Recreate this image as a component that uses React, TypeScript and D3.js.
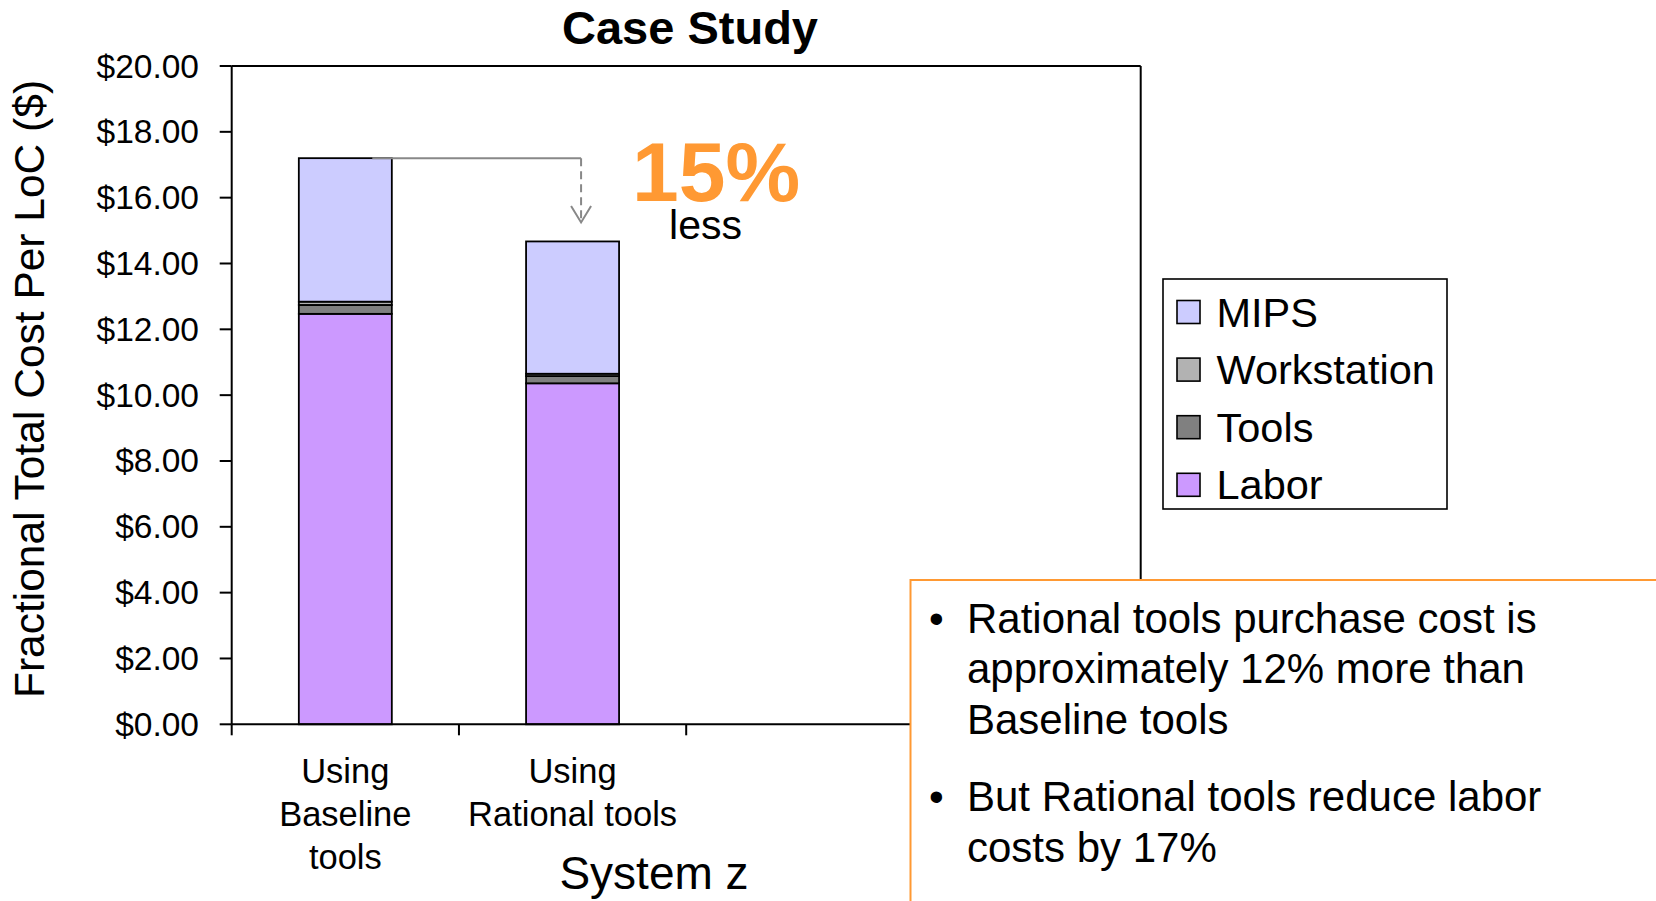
import React from "react";
import * as d3 from "d3";

// ---------- data ----------
const categories = ["Using Baseline tools", "Using Rational tools"];
const categoryLines = [["Using", "Baseline", "tools"], ["Using", "Rational tools"]];
const emptySlots = ["slot3", "slot4"];
const seriesNames = ["Labor", "Tools", "Workstation", "MIPS"];
const labor = [12.47, 10.36];
const tools = [0.27, 0.22];
const workstation = [0.1, 0.07];
const mips = [4.36, 4.02];
const yTicks = [0, 2, 4, 6, 8, 10, 12, 14, 16, 18, 20];
const legendOrder = ["MIPS", "Workstation", "Tools", "Labor"];
const seriesColors: Record<string, string> = {
  Labor: "#CC99FF",
  Tools: "#808080",
  Workstation: "#B2B2B2",
  MIPS: "#CCCCFF",
};
const title = "Case Study";
const yTitle = "Fractional Total Cost Per LoC ($)";
const xTitle = "System z";
const calloutBig = "15%";
const calloutSmall = "less";
const bullets = [
  ["Rational tools purchase cost is", "approximately 12% more than", "Baseline tools"],
  ["But Rational tools reduce labor", "costs by 17%"],
];

const FONT = "'Liberation Sans', Arial, sans-serif";
const W = 1656;
const H = 901;
const left = 231.7;
const right = 1140.7;
const top = 66;
const bottom = 724.3;

export default function App() {
  const table = categories.map((c, i) => ({
    category: c,
    Labor: labor[i],
    Tools: tools[i],
    Workstation: workstation[i],
    MIPS: mips[i],
  }));
  const stacked = d3.stack<any>().keys(seriesNames)(table);

  const slots = [...categories, ...emptySlots];
  const pad = 1 - 93 / ((right - left) / slots.length);
  const x = d3
    .scaleBand<string>()
    .domain(slots)
    .range([left, right])
    .paddingInner(pad)
    .paddingOuter(pad / 2);
  const y = d3.scaleLinear().domain([0, 20]).range([bottom, top]);
  const fmt = d3.format("$.2f");
  const step = x.step();
  const xTickPos = d3.range(slots.length + 1).map((i) => left + i * step);

  const totals = table.map((d) => d.Labor + d.Tools + d.Workstation + d.MIPS);
  const bw = x.bandwidth();
  const x0 = (x(categories[0]) as number) + bw * 0.79;
  const x1 = (x(categories[1]) as number) + bw / 2 + 8.5;
  const yStart = y(totals[0]);
  const yTip = y(totals[1]) - 19;

  const legendX = 1163;
  const legendY = 279;
  const legendW = 284;
  const legendH = 230;
  const rowY0 = 312;
  const rowStep = 57.6;

  return (
    <svg
      width={W}
      height={H}
      style={{ position: "absolute", left: 0, top: 0, background: "#fff" }}
      fontFamily={FONT}
    >
      {/* title */}
      <text x={690} y={44.4} textAnchor="middle" fontSize={47} fontWeight="bold" fill="#000">
        {title}
      </text>

      {/* plot frame */}
      <line x1={left} y1={top} x2={right} y2={top} stroke="#000" strokeWidth={2} />
      <line x1={right} y1={top} x2={right} y2={bottom} stroke="#000" strokeWidth={2} />

      {/* bars */}
      {stacked.map((layer) => (
        <g key={layer.key}>
          {layer.map((d, i) => (
            <rect
              key={i}
              x={x(categories[i])}
              y={y(d[1])}
              width={bw}
              height={y(d[0]) - y(d[1])}
              fill={seriesColors[layer.key]}
              stroke="#000"
              strokeWidth={1.8}
            />
          ))}
        </g>
      ))}

      {/* y axis */}
      <line x1={left} y1={top} x2={left} y2={bottom} stroke="#000" strokeWidth={2} />
      {yTicks.map((t) => (
        <g key={t}>
          <line x1={left - 12} x2={left} y1={y(t)} y2={y(t)} stroke="#000" strokeWidth={2} />
          <text x={199} y={y(t) + 11.5} textAnchor="end" fontSize={33.5} fill="#000">
            {fmt(t)}
          </text>
        </g>
      ))}

      {/* x axis */}
      <line x1={left} y1={bottom} x2={right} y2={bottom} stroke="#000" strokeWidth={2} />
      {xTickPos.map((p, i) => (
        <line key={i} x1={p} x2={p} y1={bottom} y2={bottom + 11} stroke="#000" strokeWidth={2} />
      ))}
      {categories.map((c, i) => (
        <text
          key={c}
          x={(x(c) as number) + bw / 2}
          textAnchor="middle"
          fontSize={34.5}
          fill="#000"
        >
          {categoryLines[i].map((ln, j) => (
            <tspan key={j} x={(x(c) as number) + bw / 2} y={783 + j * 43}>
              {ln}
            </tspan>
          ))}
        </text>
      ))}
      <text x={654} y={889} textAnchor="middle" fontSize={46} fill="#000">
        {xTitle}
      </text>

      {/* y title */}
      <text
        transform={`translate(43.5, 389) rotate(-90)`}
        textAnchor="middle"
        fontSize={42.5}
        fill="#000"
      >
        {yTitle}
      </text>

      {/* connector arrow */}
      <path
        d={`M${x0},${yStart} H${x1}`}
        fill="none"
        stroke="#888888"
        strokeWidth={2}
      />
      <path
        d={`M${x1},${yStart} V${yTip}`}
        fill="none"
        stroke="#888888"
        strokeWidth={2}
        strokeDasharray="8,5"
      />
      <path
        d={`M${x1 - 10},${yTip - 16.5} L${x1},${yTip} L${x1 + 10},${yTip - 16.5}`}
        fill="none"
        stroke="#888888"
        strokeWidth={2}
      />

      {/* callout */}
      <text x={632} y={200.7} fontSize={84} fontWeight="bold" fill="#FF9933">
        {calloutBig}
      </text>
      <text x={705.5} y={239} textAnchor="middle" fontSize={41} fill="#000">
        {calloutSmall}
      </text>

      {/* legend */}
      <rect x={legendX} y={legendY} width={legendW} height={legendH} fill="#fff" stroke="#000" strokeWidth={1.6} />
      {legendOrder.map((k, i) => (
        <g key={k}>
          <rect
            x={1177}
            y={rowY0 + i * rowStep - 11.5}
            width={23}
            height={23}
            fill={seriesColors[k]}
            stroke="#000"
            strokeWidth={1.6}
          />
          <text x={1216.5} y={rowY0 + i * rowStep + 14.5} fontSize={41.5} fill="#000">
            {k}
          </text>
        </g>
      ))}

      {/* notes box */}
      <rect x={910.5} y={580} width={800} height={400} fill="#fff" stroke="#FF9933" strokeWidth={2} />
      {(() => {
        const out: any[] = [];
        let yy = 632.6;
        bullets.forEach((para, pi) => {
          out.push(
            <text key={`b${pi}`} x={929} y={yy} fontSize={42} fill="#000">
              •
            </text>
          );
          para.forEach((ln, li) => {
            out.push(
              <text key={`t${pi}-${li}`} x={967} y={yy} fontSize={42} fill="#000">
                {ln}
              </text>
            );
            yy += 50.8;
          });
          yy += 26.4;
        });
        return out;
      })()}
    </svg>
  );
}
